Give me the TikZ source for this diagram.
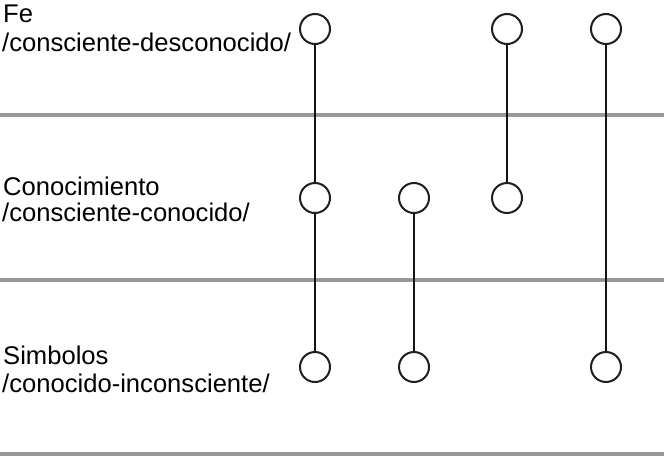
\documentclass[tikz,border=0pt]{standalone}
\usepackage{fontspec}
\setmainfont{Liberation Sans}
\begin{document}
\begin{tikzpicture}[x=1pt,y=-1pt,
  dot/.style={circle,draw=black!88,line width=2pt,fill=white,minimum size=30pt,inner sep=0pt},
  link/.style={draw=black!92,line width=2pt},
  band/.style={draw=black!40,line width=4.5pt},
  lbl/.style={anchor=base west,inner sep=0pt,font=\fontsize{25.6}{30}\selectfont}]
\useasboundingbox (0,0) rectangle (664,458);
% separators
\coordinate (s1a) at (0,115); \coordinate (s1b) at (664,115);
\coordinate (s2a) at (0,280); \coordinate (s2b) at (664,280);
\coordinate (s3a) at (0,454); \coordinate (s3b) at (664,454);
\draw[band] (s1a) -- (s1b);
\draw[band] (s2a) -- (s2b);
\draw[band] (s3a) -- (s3b);
% labels
\node[lbl] (t1) at (3,22) {Fe};
\node[lbl] (t1b) at (2,51) {/consciente-desconocido/};
\node[lbl] (t2) at (3,195) {Conocimiento};
\node[lbl] (t2b) at (2,221) {/consciente-conocido/};
\node[lbl] (t3) at (3,364) {Simbolos};
\node[lbl] (t3b) at (2,392) {/conocido-inconsciente/};
% circles
\node[dot] (a1) at (315,29) {};
\node[dot] (a2) at (315,198) {};
\node[dot] (a3) at (315,367) {};
\node[dot] (b2) at (414,198) {};
\node[dot] (b3) at (414,367) {};
\node[dot] (c1) at (507,29) {};
\node[dot] (c2) at (507,198) {};
\node[dot] (d1) at (606,29) {};
\node[dot] (d3) at (606,367) {};
% connectors
\draw[link] (a1) -- (a2);
\draw[link] (a2) -- (a3);
\draw[link] (b2) -- (b3);
\draw[link] (c1) -- (c2);
\draw[link] (d1) -- (d3);
\end{tikzpicture}
\end{document}
